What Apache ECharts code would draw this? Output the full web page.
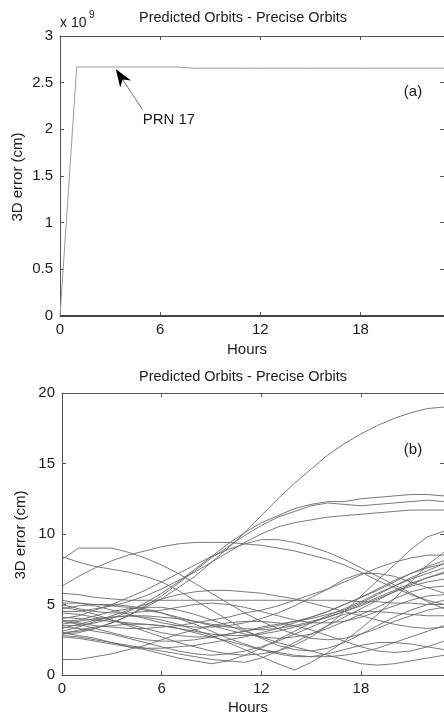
<!DOCTYPE html>
<html><head><meta charset="utf-8">
<script src="https://cdn.jsdelivr.net/npm/echarts@6/dist/echarts.min.js"></script>
<style>html,body{margin:0;padding:0;background:#fff}#c{width:444px;height:715px}</style>
</head><body><div id="c"></div>
<script>
// ---- data ----
const hours = [0,1,2,3,4,5,6,7,8,9,10,11,12,13,14,15,16,17,18,19,20,21,22,23];
const hourTicks = [0,6,12,18];
const errTicksA = [0,0.5e9,1e9,1.5e9,2e9,2.5e9,3e9];
const errTicksB = [0,5,10,15,20];
const titleText = 'Predicted Orbits - Precise Orbits';
const xName = 'Hours';
const yName = '3D error (cm)';

// PRN 17 (cm), panel (a)
const prn17 = [0,2.668e9,2.668e9,2.668e9,2.668e9,2.668e9,2.668e9,2.668e9,2.655e9,2.655e9,2.655e9,2.655e9,2.655e9,2.655e9,2.655e9,2.655e9,2.655e9,2.655e9,2.655e9,2.655e9,2.655e9,2.655e9,2.655e9,2.655e9];

// other satellites (cm), panel (b)
const sat01 = [3.0,3.1,3.3,3.7,4.2,4.8,5.4,6.2,7.0,8.0,9.0,10.1,11.3,12.5,13.6,14.6,15.6,16.4,17.1,17.7,18.2,18.6,18.9,19.0];
const sat02 = [3.5,3.5,3.7,4.0,4.5,5.1,5.8,6.6,7.5,8.4,9.3,10.1,10.8,11.3,11.8,12.1,12.3,12.3,12.5,12.6,12.7,12.8,12.8,12.7];
const sat03 = [2.9,3.0,3.3,3.7,4.2,4.9,5.6,6.5,7.4,8.3,9.1,9.9,10.6,11.2,11.6,12.0,12.2,12.1,12.0,12.1,12.2,12.3,12.4,12.3];
const sat04 = [4.5,4.5,4.7,4.9,5.2,5.6,6.1,6.7,7.3,8.0,8.7,9.4,10.0,10.5,10.8,11.0,11.2,11.3,11.4,11.5,11.6,11.7,11.7,11.7];
const sat05 = [8.2,9.0,9.0,9.0,8.7,8.3,7.8,7.2,6.5,5.8,5.1,4.4,3.8,3.3,2.9,2.6,2.5,2.6,2.9,3.3,3.8,4.2,4.6,4.8];
const sat06 = [6.3,7.0,7.6,8.1,8.5,8.8,9.1,9.3,9.4,9.4,9.4,9.3,9.2,9.0,8.8,8.5,8.2,7.8,7.3,6.7,6.2,5.7,5.3,5.0];
const sat07 = [8.4,8.0,7.7,7.5,7.3,7.0,6.6,6.0,5.3,4.6,3.9,3.2,2.6,2.1,1.8,1.7,1.9,2.3,2.9,3.5,4.1,4.6,5.0,5.3];
const sat08 = [4.0,4.2,4.6,5.0,5.5,6.0,6.6,7.2,7.8,8.4,8.9,9.3,9.6,9.6,9.4,9.1,8.7,8.2,7.6,7.0,6.4,5.8,5.2,4.7];
const sat09 = [5.8,5.7,5.5,5.4,5.3,5.3,5.3,5.3,5.3,5.3,5.3,5.3,5.3,5.3,5.3,5.3,5.3,5.3,5.2,5.2,5.1,5.1,5.0,5.0];
const sat10 = [1.1,1.1,1.3,1.5,1.8,2.1,2.5,2.9,3.2,3.5,3.7,3.8,3.8,3.7,3.5,3.2,2.8,2.4,2.0,1.7,1.6,1.7,2.0,2.4];
const sat11 = [3.3,3.6,3.9,4.1,4.2,4.1,3.9,3.6,3.2,2.8,2.3,1.8,1.3,0.8,0.35,0.9,1.6,2.4,3.3,4.3,5.4,6.6,7.8,8.7];
const sat12 = [4.8,4.6,4.3,3.9,3.5,3.1,2.7,2.3,2.0,1.7,1.5,1.4,1.5,1.7,2.1,2.7,3.5,4.5,5.6,6.7,7.8,8.9,9.8,10.2];
const sat13 = [3.8,3.9,4.2,4.5,4.7,4.8,4.8,4.6,4.3,3.9,3.5,3.1,2.7,2.3,2.0,1.7,1.4,1.1,0.8,0.7,0.8,1.0,1.2,1.4];
const sat14 = [2.8,2.7,2.5,2.3,2.1,1.9,1.7,1.5,1.3,1.1,1.0,0.9,1.2,1.7,2.3,2.9,3.5,4.1,4.7,5.3,5.9,6.4,6.9,7.3];
const sat15 = [3.0,2.8,2.6,2.3,2.0,1.8,1.5,1.2,1.0,0.8,1.0,1.4,1.9,2.5,3.1,3.7,4.2,4.7,5.2,5.8,6.3,6.8,7.2,7.6];
const sat16 = [4.1,4.0,3.9,3.8,3.7,3.6,3.5,3.3,3.1,2.9,2.8,2.8,2.9,3.1,3.4,3.7,4.1,4.5,5.0,5.5,6.0,6.5,6.9,7.2];
const sat17 = [3.6,3.8,4.0,4.1,4.2,4.2,4.1,4.0,3.8,3.6,3.4,3.3,3.2,3.3,3.5,3.8,4.1,4.5,4.9,5.4,5.9,6.3,6.6,6.8];
const sat18 = [4.4,4.3,4.1,3.9,3.6,3.3,3.0,2.8,2.7,2.7,2.9,3.1,3.4,3.6,3.8,4.0,4.3,4.6,5.1,5.7,6.3,6.9,7.4,7.9];
const sat19 = [3.9,3.7,3.5,3.4,3.3,3.3,3.4,3.5,3.7,3.9,4.1,4.4,4.6,4.9,5.3,5.7,6.1,6.6,7.1,7.6,8.0,8.3,8.5,8.5];
const sat20 = [5.1,5.1,5.0,4.9,4.8,4.6,4.4,4.1,3.8,3.5,3.2,2.9,2.7,2.6,2.7,2.9,3.3,3.8,4.3,4.8,5.4,5.9,6.2,6.3];
const sat21 = [2.7,2.6,2.4,2.2,2.0,1.9,1.9,2.0,2.1,2.3,2.5,2.7,3.0,3.3,3.7,4.1,4.5,5.0,5.5,6.0,6.6,7.2,7.7,8.1];
const sat22 = [3.1,3.4,3.8,4.2,4.6,5.0,5.4,5.7,5.9,6.0,6.0,5.9,5.8,5.6,5.4,5.1,4.8,4.5,4.2,3.9,3.6,3.4,3.3,3.4];
const sat23 = [5.3,5.1,4.9,4.6,4.3,4.0,3.7,3.5,3.4,3.4,3.5,3.7,4.0,4.4,4.9,5.5,6.1,6.8,7.2,7.2,7.0,6.6,6.2,5.8];
const sat24 = [3.4,3.3,3.1,2.9,2.6,2.3,2.0,1.7,1.5,1.4,1.5,1.7,2.0,2.4,2.9,3.4,3.9,4.3,4.5,4.5,4.4,4.3,4.2,4.2];
const sat25 = [2.9,3.2,3.4,3.5,3.6,3.6,3.5,3.3,3.0,2.7,2.4,2.1,1.8,1.6,1.4,1.3,1.3,1.4,1.6,1.9,2.3,2.7,3.1,3.5];
const sat26 = [4.7,4.9,5.0,5.0,4.9,4.7,4.4,4.0,3.6,3.1,2.6,2.2,1.8,1.5,1.3,1.3,1.5,1.8,2.1,2.3,2.3,2.2,2.0,1.8];
const sat27 = [3.8,3.6,3.3,3.0,2.7,2.5,2.4,2.4,2.5,2.7,2.9,3.1,3.3,3.5,3.8,4.1,4.5,5.0,5.5,6.1,6.7,7.2,7.6,7.9];
const sat28 = [5.0,4.7,4.5,4.4,4.4,4.5,4.6,4.8,5.0,5.1,5.0,4.8,4.5,4.2,3.9,3.7,3.7,3.8,4.1,4.5,4.9,5.3,5.6,5.7];
const others = [sat01,sat02,sat03,sat04,sat05,sat06,sat07,sat08,sat09,sat10,sat11,sat12,sat13,sat14,
                sat15,sat16,sat17,sat18,sat19,sat20,sat21,sat22,sat23,sat24,sat25,sat26,sat27,sat28];

// ---- chart ----
const FONT = "'Liberation Sans', Arial, Helvetica, sans-serif";
const TXT = '#1a1a1a';
const AX = '#555';
const chart = echarts.init(document.getElementById('c'), null, {renderer: 'canvas'});

function pairs(arr) { return hours.map((h, i) => [h, arr[i]]); }

function xAx(gi, pos, labels) {
  return {
    type: 'value', gridIndex: gi, position: pos, min: 0, max: 23,
    axisLine: {show: true, onZero: false, lineStyle: {color: AX, width: 1}},
    axisTick: {show: true, inside: true, length: 4, customValues: hourTicks, lineStyle: {color: AX}},
    axisLabel: {show: labels, customValues: hourTicks, margin: 6, color: TXT, fontSize: 15, fontFamily: FONT},
    splitLine: {show: false}
  };
}
function yAx(gi, pos, labels, ticks, maxV, fmt) {
  return {
    type: 'value', gridIndex: gi, position: pos, min: 0, max: maxV,
    axisLine: {show: true, onZero: false, lineStyle: {color: AX, width: 1}},
    axisTick: {show: true, inside: true, length: 4, customValues: ticks, lineStyle: {color: AX}},
    axisLabel: {show: labels, customValues: ticks, margin: 7, color: TXT, fontSize: 15, fontFamily: FONT, formatter: fmt},
    splitLine: {show: false}
  };
}

const series = [];
others.forEach(arr => series.push({
  type: 'line', xAxisIndex: 0, yAxisIndex: 0, data: pairs(arr), showSymbol: false, silent: true,
  lineStyle: {color: '#444', width: 2}
}));
series.push({
  type: 'line', xAxisIndex: 0, yAxisIndex: 0, data: pairs(prn17), showSymbol: false, silent: true,
  lineStyle: {color: '#9a9a9a', width: 1}
});
others.forEach(arr => series.push({
  type: 'line', xAxisIndex: 2, yAxisIndex: 2, data: pairs(arr), showSymbol: false, silent: true,
  lineStyle: {color: '#6a6a6a', width: 0.9}
}));

chart.setOption({
  animation: false,
  backgroundColor: '#fff',
  grid: [
    {left: 60, top: 36, width: 386, height: 280, show: false},
    {left: 62, top: 393, width: 384, height: 282, show: false}
  ],
  xAxis: [xAx(0, 'bottom', true), xAx(0, 'top', false), xAx(1, 'bottom', true), xAx(1, 'top', false)],
  yAxis: [
    yAx(0, 'left', true, errTicksA, 3e9, v => String(v / 1e9)),
    yAx(0, 'right', false, errTicksA, 3e9, null),
    yAx(1, 'left', true, errTicksB, 20, v => String(v)),
    yAx(1, 'right', false, errTicksB, 20, null)
  ],
  series: series
});

// annotations
const tip = chart.convertToPixel({xAxisIndex: 0, yAxisIndex: 0}, [3.34, 2.647e9]);
const tail = chart.convertToPixel({xAxisIndex: 0, yAxisIndex: 0}, [4.95, 2.208e9]);
const dx = tail[0] - tip[0], dy = tail[1] - tip[1];
const L = Math.hypot(dx, dy), ux = dx / L, uy = dy / L, px = -uy, py = ux;
const hl = 18, hw = 6.5;
const headPts = [
  [tip[0], tip[1]],
  [tip[0] + ux * hl + px * hw, tip[1] + uy * hl + py * hw],
  [tip[0] + ux * hl * 0.7, tip[1] + uy * hl * 0.7],
  [tip[0] + ux * hl - px * hw, tip[1] + uy * hl - py * hw]
];
const tfont = (sz) => ({fontSize: sz, fontFamily: FONT, fill: TXT});
chart.setOption({
  graphic: [
    {type: 'line', shape: {x1: tip[0] + ux * 12, y1: tip[1] + uy * 12, x2: tail[0], y2: tail[1]}, style: {stroke: '#777', lineWidth: 1}},
    {type: 'polygon', shape: {points: headPts}, style: {fill: '#000'}},
    {type: 'text', x: tail[0], y: tail[1] + 10, style: Object.assign({text: 'PRN 17', align: 'left', verticalAlign: 'middle'}, tfont(15))},
    {type: 'text', x: 243, y: 18, style: Object.assign({text: titleText, align: 'center', verticalAlign: 'middle'}, tfont(14.5))},
    {type: 'text', x: 243, y: 377, style: Object.assign({text: titleText, align: 'center', verticalAlign: 'middle'}, tfont(14.5))},
    {type: 'text', x: 247, y: 350, style: Object.assign({text: xName, align: 'center', verticalAlign: 'middle'}, tfont(15))},
    {type: 'text', x: 248, y: 708, style: Object.assign({text: xName, align: 'center', verticalAlign: 'middle'}, tfont(15))},
    {type: 'text', x: 18, y: 177, rotation: Math.PI / 2, style: Object.assign({text: yName, align: 'center', verticalAlign: 'middle'}, tfont(15))},
    {type: 'text', x: 21, y: 535, rotation: Math.PI / 2, style: Object.assign({text: yName, align: 'center', verticalAlign: 'middle'}, tfont(15))},
    {type: 'text', x: 413, y: 92, style: Object.assign({text: '(a)', align: 'center', verticalAlign: 'middle'}, tfont(15))},
    {type: 'text', x: 413, y: 450, style: Object.assign({text: '(b)', align: 'center', verticalAlign: 'middle'}, tfont(15))},
    {type: 'text', x: 60, y: 23, style: Object.assign({text: 'x 10', align: 'left', verticalAlign: 'middle'}, tfont(14))},
    {type: 'text', x: 89, y: 15, style: Object.assign({text: '9', align: 'left', verticalAlign: 'middle'}, tfont(10))}
  ]
});
</script></body></html>
